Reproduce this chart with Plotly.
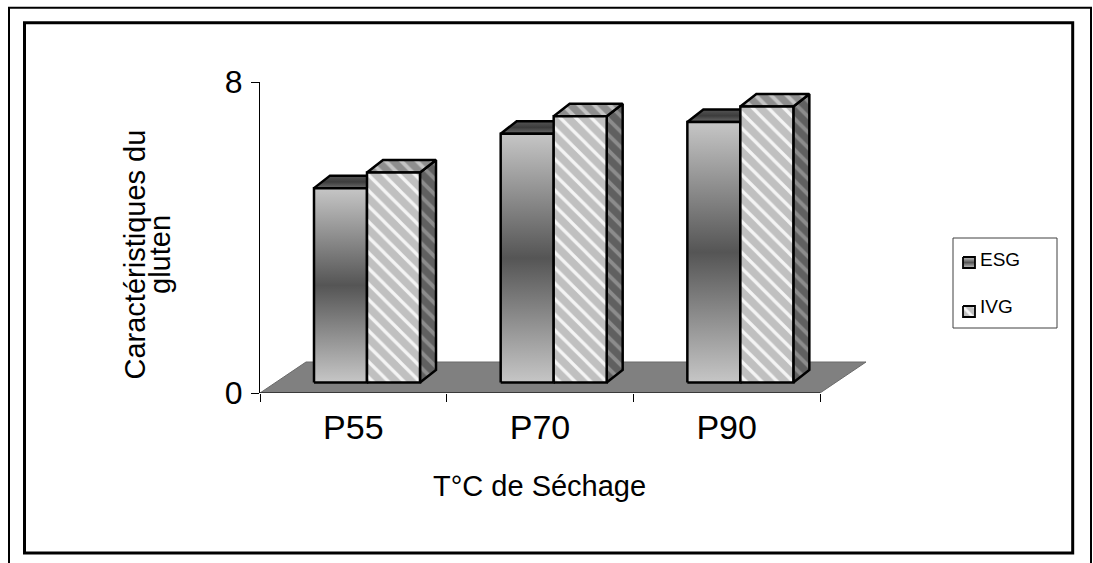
import plotly.graph_objects as go

# ---------------- data ----------------
categories = ["P55", "P70", "P90"]
series_names = ["ESG", "IVG"]
esg_values = [5.0, 6.4, 6.7]
ivg_values = [5.4, 6.85, 7.1]
y_tick_values = [0, 8]
y_tick_labels = ["0", "8"]
x_title = "T°C de Séchage"
y_title_lines = ["Caractéristiques du", "gluten"]

# ---------------- geometry (pixels) ----------------
W, H = 1093, 563
PL, PR, PT, PB = 260, 866.7, 82, 393
XMAX = 3.25
YMAX = 8
px_x = (PR - PL) / XMAX
px_y = (PB - PT) / YMAX


def ux(p):
    return p / px_x


def uy(p):
    return p / px_y


FLOOR_DX, FLOOR_DY = ux(46), uy(31)
FRONT_DY = uy(10.5)
BAR_OFF = ux(54)
BAR_W = ux(53)
DEPTH_DX, DEPTH_DY = ux(16), uy(12.5)

FONT = "Liberation Sans, Arial, sans-serif"
OUTLINE = dict(color="black", width=2.5)

fig = go.Figure()


def poly(xs, ys, **kw):
    fig.add_trace(go.Scatter(
        x=xs + [xs[0]], y=ys + [ys[0]], mode="lines", fill="toself",
        hoverinfo="skip", showlegend=False, xaxis="x", yaxis="y", **kw))


# floor
ncat = len(categories)
poly([0, ncat, ncat + FLOOR_DX, FLOOR_DX], [0, 0, FLOOR_DY, FLOOR_DY],
     fillcolor="#808080", line=dict(color="#6a6a6a", width=1))
# category axis line
fig.add_trace(go.Scatter(x=[0, ncat], y=[0, 0], mode="lines",
                         line=dict(color="black", width=1.2),
                         hoverinfo="skip", showlegend=False))

esg_front_grad = [[0, "#c6c6c6"], [0.5, "#555555"], [1, "#c6c6c6"]]

for i, cat in enumerate(categories):
    for s, vals in enumerate([esg_values, ivg_values]):
        v = vals[i]
        xl = i + BAR_OFF + s * BAR_W
        xr = xl + BAR_W
        yb = FRONT_DY
        yt = yb + v
        side_x = [xr, xr + DEPTH_DX, xr + DEPTH_DX, xr]
        side_y = [yb, yb + DEPTH_DY, yt + DEPTH_DY, yt]
        top_x = [xl, xr, xr + DEPTH_DX, xl + DEPTH_DX]
        top_y = [yt, yt, yt + DEPTH_DY, yt + DEPTH_DY]
        front_x = [xl, xr, xr, xl]
        front_y = [yb, yb, yt, yt]
        if s == 0:
            poly(side_x, side_y, fillcolor="#505050", line=OUTLINE)
            poly(top_x, top_y, fillcolor="#4a4a4a", line=OUTLINE,
                 fillgradient=dict(type="vertical", start=yt, stop=yt + DEPTH_DY,
                                   colorscale=[[0, "#6a6a6a"], [0.5, "#3c3c3c"], [1, "#555555"]]))
            poly(front_x, front_y, fillcolor="#888888", line=OUTLINE,
                 fillgradient=dict(type="vertical", start=yb, stop=yt,
                                   colorscale=esg_front_grad))
        else:
            poly(side_x, side_y, fillcolor="#606060", line=OUTLINE,
                 fillpattern=dict(shape="\\", bgcolor="#606060", fgcolor="#8c8c8c",
                                  size=11, solidity=0.35))
            poly(top_x, top_y, fillcolor="#8e8e8e", line=OUTLINE,
                 fillpattern=dict(shape="\\", bgcolor="#8e8e8e", fgcolor="#c4c4c4",
                                  size=11, solidity=0.35))
            poly(front_x, front_y, fillcolor="#c0c0c0", line=OUTLINE,
                 fillpattern=dict(shape="\\", bgcolor="#c0c0c0", fgcolor="#f4f4f4",
                                  size=11, solidity=0.3))

# ---------------- legend swatches (pixel subplot) ----------------
def pix_poly(xs, ys, **kw):
    fig.add_trace(go.Scatter(
        x=xs + [xs[0]], y=ys + [ys[0]], mode="lines", fill="toself",
        hoverinfo="skip", showlegend=False, xaxis="x2", yaxis="y2", **kw))


sw_x = [963, 975, 975, 963]
pix_poly(sw_x, [257, 257, 268, 268], fillcolor="#777777",
         line=dict(color="black", width=1.8),
         fillgradient=dict(type="vertical", start=257, stop=268, colorscale=esg_front_grad))
pix_poly(sw_x, [306, 306, 317, 317], fillcolor="#c0c0c0",
         line=dict(color="black", width=1.8),
         fillpattern=dict(shape="\\", bgcolor="#c0c0c0", fgcolor="#f4f4f4", size=8, solidity=0.35))

shapes = [
    dict(type="rect", xref="x2", yref="y2", x0=9, y0=7.7, x1=1091, y1=580,
         line=dict(color="black", width=2)),
    dict(type="rect", xref="x2", yref="y2", x0=24.5, y0=22.7, x1=1072.7, y1=553,
         line=dict(color="black", width=3)),
    dict(type="rect", xref="x2", yref="y2", x0=953, y0=238, x1=1057, y1=328,
         line=dict(color="#404040", width=1), layer="below"),
]

annotations = [
    dict(text=x_title, xref="x2", yref="y2", x=539, y=486, showarrow=False,
         xanchor="center", yanchor="middle", font=dict(family=FONT, size=29, color="black")),
    dict(text=y_title_lines[0], xref="x2", yref="y2", x=134.5, y=255, showarrow=False,
         textangle=-90, xanchor="center", yanchor="middle",
         font=dict(family=FONT, size=29, color="black")),
    dict(text=y_title_lines[1], xref="x2", yref="y2", x=160, y=255, showarrow=False,
         textangle=-90, xanchor="center", yanchor="middle",
         font=dict(family=FONT, size=29, color="black")),
    dict(text=series_names[0], xref="x2", yref="y2", x=978, y=259, showarrow=False,
         xanchor="left", yanchor="middle", font=dict(family=FONT, size=19, color="black")),
    dict(text=series_names[1], xref="x2", yref="y2", x=978, y=306, showarrow=False,
         xanchor="left", yanchor="middle", font=dict(family=FONT, size=19, color="black")),
]

fig.update_layout(
    template="none",
    width=W, height=H,
    margin=dict(l=0, r=0, t=0, b=0, pad=0),
    paper_bgcolor="white",
    plot_bgcolor="rgba(0,0,0,0)",
    showlegend=False,
    xaxis=dict(domain=[PL / W, PR / W], range=[0, XMAX], anchor="y",
               showline=False, showgrid=False, zeroline=False,
               tickmode="array", tickvals=[i + 0.5 for i in range(ncat)], ticktext=categories,
               ticks="", ticklabelstandoff=11,
               tickfont=dict(family=FONT, size=34, color="black"),
               minor=dict(tickmode="array", tickvals=list(range(ncat + 1)), ticks="outside",
                          ticklen=8, tickcolor="black", tickwidth=1, showgrid=False),
               automargin=False, fixedrange=True),
    yaxis=dict(domain=[1 - PB / H, 1 - PT / H], range=[0, YMAX], anchor="x",
               showline=True, linecolor="black", linewidth=1,
               showgrid=False, zeroline=False,
               tickmode="array", tickvals=y_tick_values, ticktext=y_tick_labels,
               ticks="outside", ticklen=8, tickcolor="black", tickwidth=1,
               ticklabelstandoff=2,
               tickfont=dict(family=FONT, size=32, color="black"),
               automargin=False, fixedrange=True),
    xaxis2=dict(domain=[0, 1], range=[0, W], anchor="y2", visible=False, fixedrange=True),
    yaxis2=dict(domain=[0, 1], range=[H, 0], anchor="x2", visible=False, fixedrange=True),
    shapes=shapes,
    annotations=annotations,
)

fig.write_html("out.html", config={"displayModeBar": False})
